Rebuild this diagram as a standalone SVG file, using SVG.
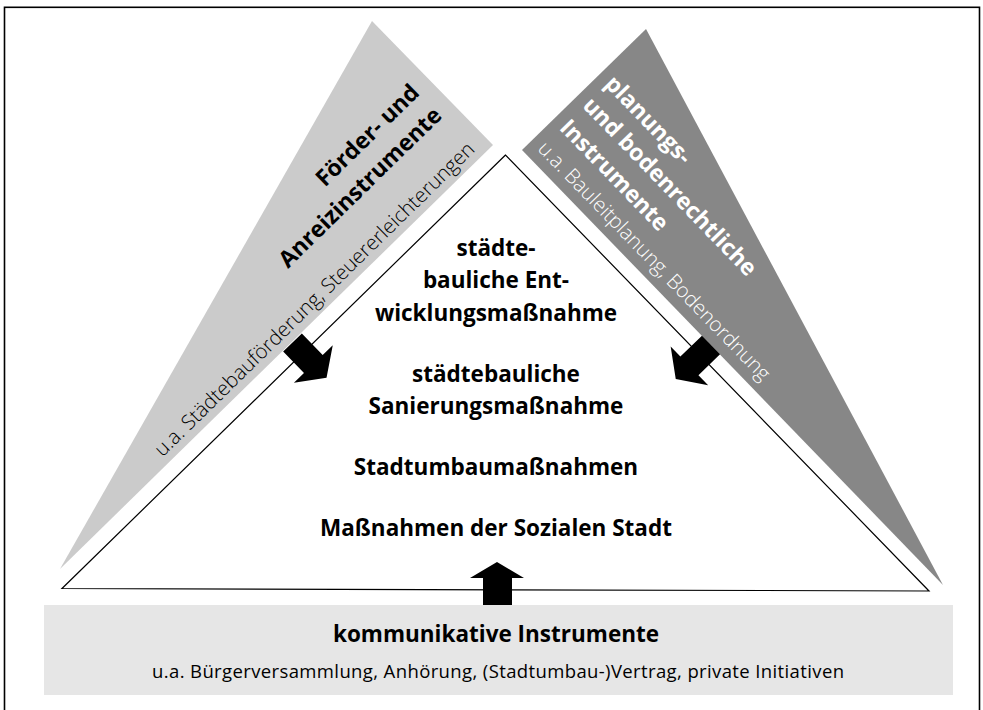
<svg xmlns="http://www.w3.org/2000/svg" width="983" height="710" viewBox="0 0 983 710">
<defs>
<style>
.t{font-family:"Open Sans","Liberation Sans",sans-serif;}
.title{font-size:23px;font-weight:700;}
.sub{font-size:20.4px;font-weight:300;}
.center{font-size:22.5px;font-weight:700;fill:#000;text-anchor:middle;}
.arrow{fill:#000;}
</style>
</defs>
<rect x="0" y="0" width="983" height="710" fill="#fff"/>
<rect x="4.5" y="7.3" width="975" height="720" fill="none" stroke="#000" stroke-width="1.6"/>

<g id="node-foerder">
<polygon points="372,21 493,145 60,569" fill="#cbcbcb"/>
<g transform="translate(493,145) rotate(-44.4)" class="t" fill="#000" text-anchor="end">
<text x="-16" y="-87" class="title">Förder- und</text>
<text x="-16" y="-55" class="title">Anreizinstrumente</text>
<text x="-16" y="-8" class="sub">u.a. Städtebauförderung, Steuererleichterungen</text>
</g>
</g>

<g id="node-planung">
<polygon points="646,29 522,150 943,585" fill="#878787"/>
<g transform="translate(522,150) rotate(45.9)" class="t" fill="#fff" text-anchor="start">
<text x="10" y="-104" class="title">planungs-</text>
<text x="10" y="-73" class="title">und bodenrechtliche</text>
<text x="10" y="-41" class="title">Instrumente</text>
<text x="10" y="-11" class="sub">u.a. Bauleitplanung, Bodenordnung</text>
</g>
</g>

<g id="node-massnahmen">
<polygon points="505.5,155 62,588.5 929,591" fill="#fff" stroke="#000" stroke-width="1.2"/>
<g class="t">
<text x="496" y="255.5" class="center">städte-</text>
<text x="496" y="288" class="center">bauliche Ent-</text>
<text x="496" y="320.7" class="center">wicklungsmaßnahme</text>
<text x="496" y="381.7" class="center">städtebauliche</text>
<text x="496" y="414.3" class="center">Sanierungsmaßnahme</text>
<text x="496" y="475" class="center">Stadtumbaumaßnahmen</text>
<text x="496" y="535.7" class="center">Maßnahmen der Sozialen Stadt</text>
</g>
</g>

<g id="node-kommunikativ">
<rect x="44" y="605" width="909" height="90" fill="#e6e6e6"/>
<text x="496" y="641.7" class="t" font-size="22.5" font-weight="700" text-anchor="middle" fill="#000">kommunikative Instrumente</text>
<text x="498" y="677.5" class="t" font-size="18.5" text-anchor="middle" fill="#000" textLength="692">u.a. Bürgerversammlung, Anhörung, (Stadtumbau-)Vertrag, private Initiativen</text>
</g>

<g id="connectors">
<polygon class="arrow" transform="translate(292.5,342.5) rotate(46)" points="0,-13 30,-13 30,-27 49,0 30,27 30,13 0,13"/>
<polygon class="arrow" transform="translate(711,345) rotate(136)" points="0,-13 30,-13 30,-27 49,0 30,27 30,13 0,13"/>
<polygon class="arrow" points="483,605 483,578 470,578 497,562 524,578 512,578 512,605"/>
</g>
</svg>
